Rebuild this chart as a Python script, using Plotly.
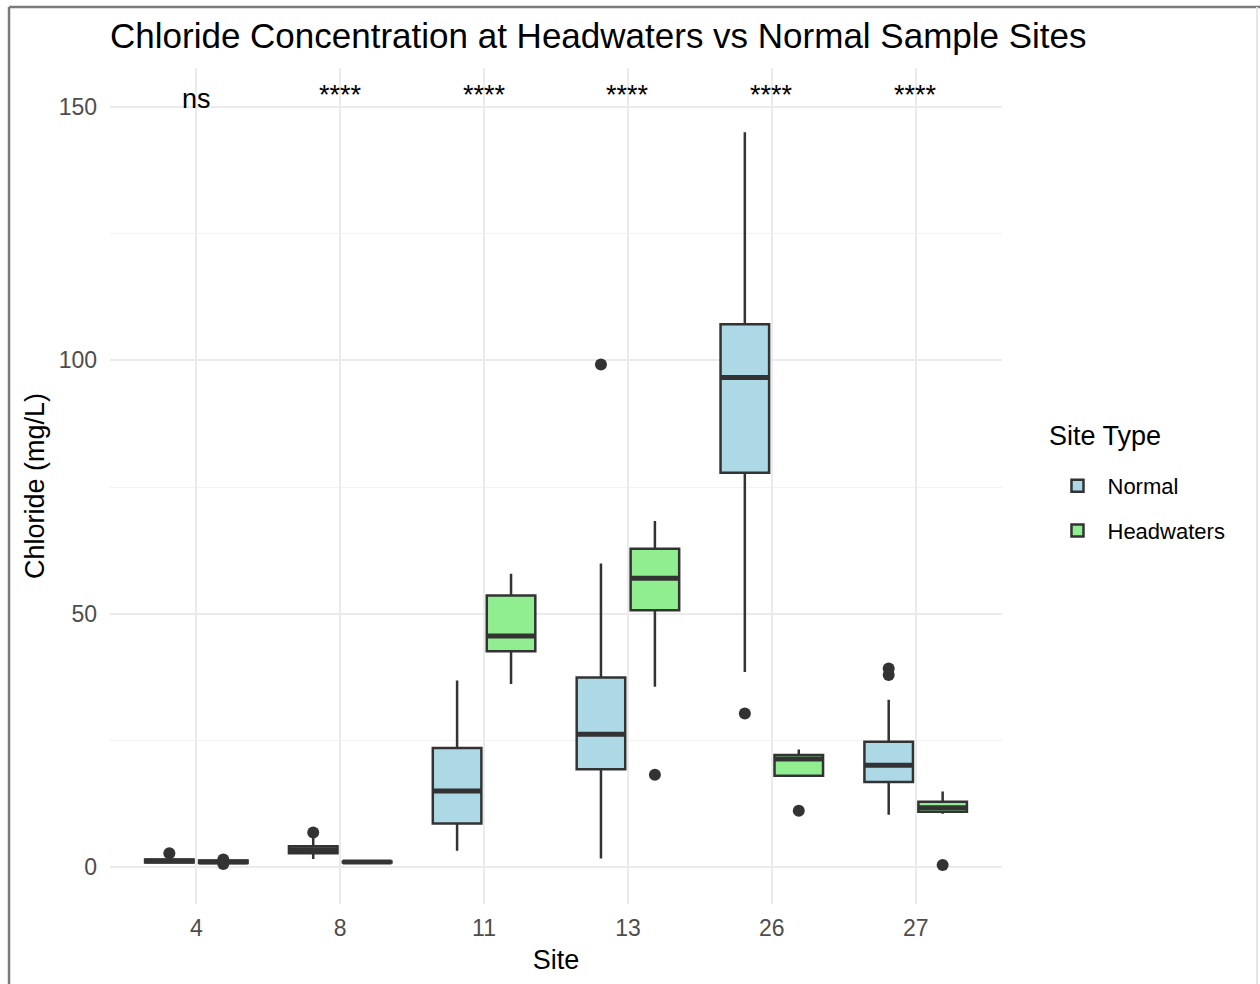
import plotly.graph_objects as go

sites = ["4", "8", "11", "13", "26", "27"]

normal_q1 = [0.9, 2.7, 8.6, 19.3, 77.8, 16.8]
normal_median = [1.2, 3.4, 15.0, 26.2, 96.6, 20.1]
normal_q3 = [1.5, 4.1, 23.5, 37.4, 107.1, 24.7]
normal_low = [0.8, 1.6, 3.2, 1.7, 38.5, 10.3]
normal_high = [1.6, 5.8, 36.8, 59.9, 145.0, 33.0]
normal_out_site = ["4", "8", "13", "26", "27", "27"]
normal_out_val = [2.7, 6.8, 99.2, 30.3, 39.2, 37.9]

head_q1 = [0.8, 0.9, 42.6, 50.7, 18.0, 10.9]
head_median = [1.0, 1.0, 45.6, 57.0, 21.3, 11.7]
head_q3 = [1.3, 1.1, 53.6, 62.8, 22.1, 12.9]
head_low = [0.8, 0.9, 36.1, 35.6, 18.0, 10.5]
head_high = [1.3, 1.1, 57.9, 68.3, 23.2, 14.9]
head_out_site = ["4", "4", "13", "26", "27"]
head_out_val = [0.6, 1.5, 18.2, 11.1, 0.4]

sig_labels = ["ns", "****", "****", "****", "****", "****"]
sig_y = 151.5

NORMAL_FILL = "#ADD8E6"
HEAD_FILL = "#90EE90"
LINE = "#333333"
DODGE = 0.1875
BOXW = 0.3375
FONT = "Liberation Sans, Arial, sans-serif"

idx = {s: i for i, s in enumerate(sites)}

fig = go.Figure()

groups = [
    ("Normal", -DODGE, NORMAL_FILL, normal_q1, normal_median, normal_q3, normal_low, normal_high, normal_out_site, normal_out_val),
    ("Headwaters", DODGE, HEAD_FILL, head_q1, head_median, head_q3, head_low, head_high, head_out_site, head_out_val),
]

for name, off, fill, q1, med, q3, lo, hi, osite, oval in groups:
    xs = [i + off for i in range(len(sites))]
    fig.add_trace(go.Box(
        name=name, x=xs, q1=q1, median=med, q3=q3, lowerfence=lo, upperfence=hi,
        width=BOXW, fillcolor=fill, line=dict(color=LINE, width=2.5),
        whiskerwidth=0, boxpoints=False, showlegend=True, legendgroup=name,
    ))
    mx, my = [], []
    for x, m in zip(xs, med):
        mx += [x - BOXW / 2, x + BOXW / 2, None]
        my += [m, m, None]
    fig.add_trace(go.Scatter(x=mx, y=my, mode="lines", line=dict(color=LINE, width=5),
                             showlegend=False, hoverinfo="skip", legendgroup=name))
    fig.add_trace(go.Scatter(
        x=[idx[s] + off for s in osite], y=oval, mode="markers",
        marker=dict(color=LINE, size=12), showlegend=False, legendgroup=name,
    ))

for i, lab in enumerate(sig_labels):
    fig.add_annotation(x=i, y=sig_y, text=lab, showarrow=False, xref="x", yref="y",
                       yanchor="middle", yshift=0 if lab == "ns" else 4,
                       font=dict(size=27, color="black", family=FONT))

# legend title as text
fig.add_annotation(xref="paper", yref="paper", x=(1047 - 110) / 892, y=(904 - 436) / 836,
                   text="Site Type", showarrow=False, xanchor="left", yanchor="middle",
                   font=dict(size=27, color="black", family=FONT))

# frame lines around the picture
fig.add_shape(type="line", xref="paper", yref="paper", x0=-0.1132, x1=-0.1132, y0=-0.2, y1=1.073,
              line=dict(color="#7a7a7a", width=2.5))
fig.add_shape(type="line", xref="paper", yref="paper", x0=-0.1132, x1=1.29, y0=1.073, y1=1.073,
              line=dict(color="#7a7a7a", width=2.5))
fig.add_shape(type="line", xref="paper", yref="paper", x0=1.2859, x1=1.2859, y0=-0.2, y1=1.073,
              line=dict(color="#e6e6e6", width=2))

fig.update_layout(
    width=1260, height=984,
    margin=dict(l=110, r=258, t=68, b=80),
    paper_bgcolor="white", plot_bgcolor="white",
    font=dict(family=FONT, color="black"),
    title=dict(text="Chloride Concentration at Headwaters vs Normal Sample Sites",
               x=110 / 1260, xanchor="left", xref="container",
               y=1 - 36 / 984, yanchor="middle", yref="container",
               font=dict(size=35, color="black")),
    boxmode="overlay",
    legend=dict(font=dict(size=22), x=1.051, xanchor="left", y=(904 - 465) / 836, yanchor="top",
                itemwidth=50, tracegroupgap=13, bgcolor="rgba(0,0,0,0)"),
    showlegend=True,
)

fig.update_xaxes(
    range=[-0.6, 5.6], tickmode="array", tickvals=list(range(len(sites))), ticktext=sites,
    showgrid=True, gridcolor="#ebebeb", gridwidth=2, zeroline=False, showline=False,
    ticks="", tickfont=dict(size=23, color="#4d4d4d"), ticklabelstandoff=8,
    title=dict(text="Site", font=dict(size=27, color="black"), standoff=10),
)
fig.update_yaxes(
    range=[-7.3, 157.7], tickvals=[0, 50, 100, 150],
    showgrid=True, gridcolor="#ebebeb", gridwidth=2, zeroline=False, showline=False,
    ticks="", tickfont=dict(size=23, color="#4d4d4d"), ticklabelstandoff=12,
    minor=dict(tickvals=[25, 75, 125], showgrid=True, gridcolor="#f2f2f2", gridwidth=1.2),
    title=dict(text="Chloride (mg/L)", font=dict(size=27, color="black"), standoff=6),
)

fig.write_html("out.html")
